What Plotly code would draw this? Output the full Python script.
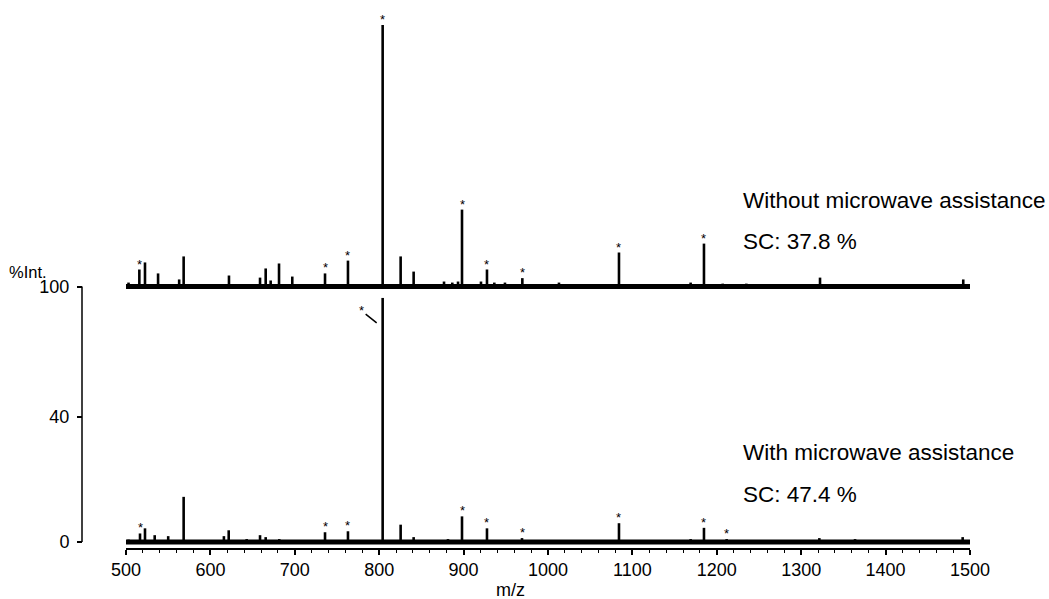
import plotly.graph_objects as go

# ---------------- data ----------------
# Top spectrum: without microwave assistance (intensity in % of base peak)
top_mz = [503.0, 515.8, 522.5, 538.0, 563.0, 568.3, 622.0, 658.8, 665.5, 671.4,
          681.3, 697.0, 735.8, 763.0, 804.1, 825.4, 840.8, 876.8, 886.6, 893.4,
          898.1, 920.6, 927.7, 936.4, 949.0, 969.6, 1013.0, 1084.1, 1169.0,
          1184.8, 1207.0, 1235.0, 1322.3, 1492.0]
top_int = [1.5, 6.5, 9.2, 5.0, 2.7, 11.5, 4.2, 3.4, 6.9, 2.3,
           8.8, 3.8, 5.0, 9.9, 100.0, 11.5, 5.7, 1.9, 1.5, 1.9,
           29.4, 1.9, 6.5, 1.5, 1.5, 3.2, 1.5, 13.0, 1.5,
           16.4, 1.1, 1.1, 3.4, 2.7]
top_star_mz = [515.8, 735.8, 763.0, 804.1, 898.1, 927.7, 969.6, 1084.1, 1184.8]

# Bottom spectrum: with microwave assistance (intensity in % of base peak)
bot_mz = [503.0, 516.6, 522.5, 534.0, 550.0, 568.3, 616.0, 621.7, 643.0, 658.8,
          665.5, 681.6, 735.8, 763.0, 804.1, 825.4, 840.8, 881.5, 898.1, 927.7,
          969.2, 1013.0, 1084.1, 1100.7, 1169.0, 1184.8, 1211.7, 1321.5, 1363.8,
          1434.8, 1491.3]
bot_int = [1.0, 3.5, 5.6, 2.8, 2.4, 18.5, 2.4, 4.8, 1.2, 2.8,
           2.0, 1.2, 4.0, 4.4, 100.0, 7.1, 2.0, 1.2, 10.5, 5.6,
           1.6, 0.8, 7.7, 0.8, 1.2, 5.8, 1.2, 1.6, 1.2,
           0.8, 2.0]
bot_star_mz = [516.6, 735.8, 763.0, 898.1, 927.7, 969.2, 1084.1, 1184.8, 1211.7]
bot_star_leader_mz = 804.1

x_ticks = [500, 600, 700, 800, 900, 1000, 1100, 1200, 1300, 1400, 1500]
y_tick_labels = ["0", "40", "100"]
labels_top = ["Without microwave assistance", "SC: 37.8 %"]
labels_bot = ["With microwave assistance", "SC: 47.4 %"]

# ---------------- display scaling (style) ----------------
MZ_MIN, MZ_MAX = 500, 1500
TOP_BASE = 81.76      # vertical offset of stacked upper trace
TOP_SCALE = 0.837     # display units per % (upper)
BOT_SCALE = 0.781     # display units per % (lower)
FONT = "Liberation Sans, Arial, sans-serif"


def sticks(mz, inten, base, scale):
    xs, ys = [], []
    for m, v in zip(mz, inten):
        xs += [m, m, None]
        ys += [base, base + v * scale, None]
    return xs, ys


fig = go.Figure()

for mz, inten, base, scale in [(top_mz, top_int, TOP_BASE, TOP_SCALE),
                               (bot_mz, bot_int, 0.0, BOT_SCALE)]:
    # baseline band
    fig.add_trace(go.Scatter(x=[MZ_MIN, MZ_MAX], y=[base, base], mode="lines",
                             line=dict(color="black", width=5),
                             hoverinfo="skip", showlegend=False))
    xs, ys = sticks(mz, inten, base, scale)
    fig.add_trace(go.Scatter(x=xs, y=ys, mode="lines",
                             line=dict(color="black", width=2.6),
                             hoverinfo="skip", showlegend=False))

annotations = []


def star(m, y):
    annotations.append(dict(x=m, y=y, xref="x", yref="y", text="*",
                            showarrow=False, yanchor="bottom", yshift=-4,
                            font=dict(size=13, color="black", family=FONT)))


for m in top_star_mz:
    star(m, TOP_BASE + top_int[top_mz.index(m)] * TOP_SCALE)
for m in bot_star_mz:
    star(m, bot_int[bot_mz.index(m)] * BOT_SCALE)

# leader-line star for the dominant lower peak
annotations.append(dict(x=bot_star_leader_mz, y=bot_int[bot_mz.index(bot_star_leader_mz)] * BOT_SCALE,
                        xref="x", yref="y", xshift=-6, yshift=-25,
                        text="*", showarrow=True, arrowhead=0, arrowwidth=1.5,
                        arrowcolor="black", ax=-15, ay=-12, standoff=0,
                        font=dict(size=13, color="black", family=FONT)))

# text labels
for i, t in enumerate(labels_top):
    annotations.append(dict(x=741, y=[200, 241][i], xref="paper", yref="paper",
                            text=t, showarrow=False, xanchor="left", yanchor="middle",
                            font=dict(size=22.5, color="black", family=FONT)))
for i, t in enumerate(labels_bot):
    annotations.append(dict(x=741, y=[452, 494][i], xref="paper", yref="paper",
                            text=t, showarrow=False, xanchor="left", yanchor="middle",
                            font=dict(size=22.5, color="black", family=FONT)))

# convert pixel-defined label positions to paper coords
L, R, T, B, W, H = 82, 79, 10, 51, 1049, 599
pw, ph = W - L - R, H - T - B
for a in annotations:
    if a.get("xref") == "paper":
        a["x"] = (a["x"] - L) / pw
        a["y"] = (H - B - a["y"]) / ph

annotations.append(dict(x=(28 - L) / pw, y=(H - B - 272) / ph, xref="paper", yref="paper",
                        text="%Int.", showarrow=False, xanchor="center", yanchor="middle",
                        font=dict(size=16.5, color="black", family=FONT)))
annotations.append(dict(x=(510 - L) / pw, y=(H - B - 590) / ph, xref="paper", yref="paper",
                        text="m/z", showarrow=False, xanchor="center", yanchor="middle",
                        font=dict(size=18, color="black", family=FONT)))

y_tick_vals = [0, 40, TOP_BASE]

fig.update_layout(
    width=W, height=H,
    margin=dict(l=L, r=R, t=T, b=B),
    paper_bgcolor="white", plot_bgcolor="white",
    font=dict(family=FONT, color="black", size=18),
    showlegend=False,
    annotations=annotations,
    shapes=[dict(type="line", xref="paper", yref="y", x0=0, x1=0, y0=0, y1=TOP_BASE,
                 line=dict(color="black", width=1.5))],
    xaxis=dict(domain=[(126 - L) / pw, 1], range=[MZ_MIN, MZ_MAX],
               tickvals=x_ticks, ticktext=[str(v) for v in x_ticks],
               showline=True, linecolor="black", linewidth=1.5,
               ticks="outside", ticklen=5, tickwidth=1.5, tickcolor="black",
               minor=dict(dtick=20, ticks="outside", ticklen=3, tickwidth=1, tickcolor="black"),
               showgrid=False, zeroline=False, tickfont=dict(size=18)),
    yaxis=dict(anchor="free", position=0, range=[-1.92, 170.24],
               tickvals=y_tick_vals, ticktext=y_tick_labels,
               showline=False, ticks="outside", ticklen=5, tickwidth=1.5, tickcolor="black",
               ticklabelstandoff=4,
               showgrid=False, zeroline=False, tickfont=dict(size=18)),
)

fig.write_html("out.html")
